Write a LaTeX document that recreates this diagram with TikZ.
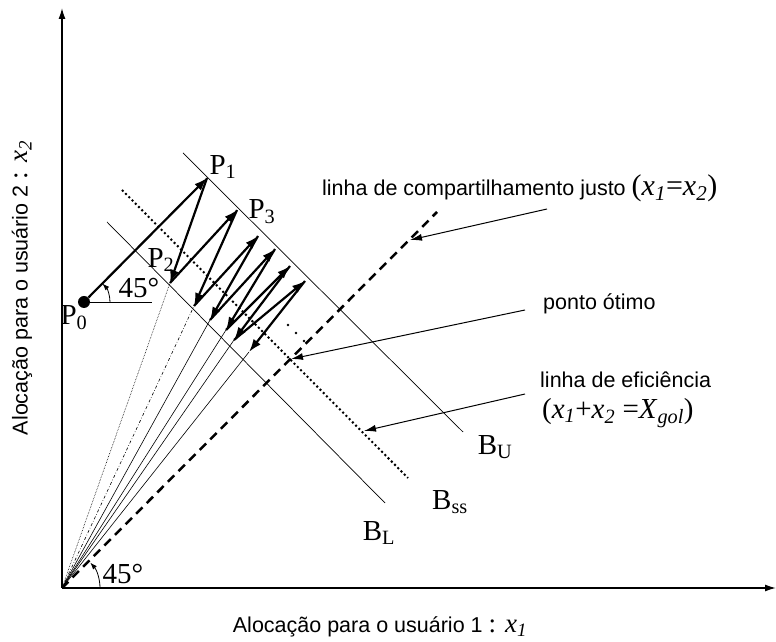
\documentclass[tikz,border=0pt]{standalone}
\usepackage{fontspec}
\setmainfont{Liberation Serif}
\newfontfamily\labelfont{Liberation Sans}
\usetikzlibrary{arrows.meta}

\newcommand{\xs}[1]{\textit{x}\textsubscript{\textit{#1}}}

\tikzset{
  axis/.style={line width=1.4pt, -{Latex[length=11pt,width=7pt]}},
  budget/.style={line width=0.7pt},
  zig/.style={line width=2.2pt, -{Latex[length=13pt,width=9pt]}},
  callout/.style={line width=1pt, -{Latex[length=12pt,width=7pt]}},
  ray/.style={line width=0.6pt},
  txt/.style={font=\labelfont\fontsize{21.5}{24}\selectfont, anchor=west, inner sep=0pt},
  axtxt/.style={font=\labelfont\fontsize{21.5}{24}\selectfont, inner sep=0pt},
  lbl/.style={font=\fontsize{29}{32}\selectfont, inner sep=0pt},
}

\begin{document}
\begin{tikzpicture}[x=1pt,y=1pt]
\useasboundingbox (-62,-54) rectangle (714,588);

% axes
\coordinate (o) at (0,0);
\coordinate (xend) at (714,0);
\coordinate (yend) at (0,580);
\draw[axis] (o) -- (xend);
\draw[axis] (o) -- (yend);
\node[axtxt] (xlab) at (318,-39) {Alocação para o usuário 1 {\rmfamily\fontsize{27}{29}\selectfont: \xs{1}}};
\node[axtxt, rotate=90] (ylab) at (-40,300) {Alocação para o usuário 2 {\rmfamily\fontsize{27}{29}\selectfont: \xs{2}}};

% budget lines
\coordinate (bu1) at (121,435);
\coordinate (bu2) at (401,156);
\coordinate (bs1) at (60,398);
\coordinate (bs2) at (346,110);
\coordinate (bl1) at (45,366);
\coordinate (bl2) at (323,85);
\draw[budget] (bu1) -- (bu2);
\draw[budget] (bl1) -- (bl2);
\draw[line width=2pt, dash pattern=on 2pt off 2.6pt] (bs1) -- (bs2);
\node[lbl] (bU) at (433,141) {B\textsubscript{U}};
\node[lbl] (bSS) at (388,86) {B\textsubscript{ss}};
\node[lbl] (bL) at (317,55) {B\textsubscript{L}};

% fairness line
\coordinate (fe) at (375,376);
\draw[line width=2.5pt, dash pattern=on 9pt off 6pt] (o) -- (fe);

% trajectory points
\node[circle, fill, inner sep=0pt, minimum size=12pt] (p0) at (22,286) {};
\coordinate (t1) at (145,410);
\coordinate (t2) at (175,378);
\coordinate (t3) at (196,352);
\coordinate (t4) at (213,339);
\coordinate (t5) at (228,322);
\coordinate (t6) at (243,307);
\coordinate (b1) at (108,305);
\coordinate (b2) at (132,282);
\coordinate (b3) at (148,268);
\coordinate (b4) at (164,258);
\coordinate (b5) at (172,248);
\coordinate (b6) at (187,236);

% rays to the origin
\draw[ray, densely dotted] (o) -- (b1);
\draw[ray, dash dot] (o) -- (b2);
\draw[ray] (o) -- (b3);
\draw[ray] (o) -- (b4);
\draw[ray] (o) -- (b5);
\draw[ray] (o) -- (b6);

\draw[zig] (p0) -- (t1);
\draw[zig] (t1) -- (b1);
\draw[zig] (b1) -- (t2);
\draw[zig] (t2) -- (b2);
\draw[zig] (b2) -- (t3);
\draw[zig] (t3) -- (b3);
\draw[zig] (b3) -- (t4);
\draw[zig] (t4) -- (b4);
\draw[zig] (b4) -- (t5);
\draw[zig] (t5) -- (b5);
\draw[zig] (b5) -- (t6);
\draw[zig] (t6) -- (b6);

\fill (226,263) circle (1.4);
\fill (234,255) circle (1.4);
\fill (242,247) circle (1.4);

\node[lbl] (p0lbl) at (12,270) {P\textsubscript{0}};
\node[lbl] (p1lbl) at (161,421) {P\textsubscript{1}};
\node[lbl] (p2lbl) at (99,328) {P\textsubscript{2}};
\node[lbl] (p3lbl) at (200,376) {P\textsubscript{3}};

% angles
\coordinate (h0) at (90,286);
\draw[line width=0.5pt] (p0.center) -- (h0);
\draw[line width=0.8pt, -{Latex[length=7pt,width=5pt]}] ([xshift=26pt]p0.center) arc[start angle=0, end angle=45, radius=26];
\node[lbl] (ang1) at (77,300) {45\textdegree};
\draw[line width=0.8pt, -{Latex[length=7pt,width=5pt]}] ([xshift=38pt]o) arc[start angle=0, end angle=42, radius=38];
\node[lbl] (ang2) at (61,14) {45\textdegree};

% annotations
\node[txt] (fair) at (260,400) {linha de compartilhamento justo {\rmfamily\fontsize{30}{32}\selectfont(\xs{1}=\xs{2})}};
\coordinate (fairtip) at (348,348);
\coordinate (fairtail) at (485,379);
\draw[callout] (fairtail) -- (fairtip);

\node[txt] (opt) at (481,284) {ponto ótimo};
\coordinate (opttail) at (463,278);
\coordinate (opttip) at (229,229);
\draw[callout] (opttail) -- (opttip);

\node[txt] (eff) at (478,208) {linha de eficiência};
\node[lbl, anchor=west] (effeq) at (480,175) {(\xs{1}+\xs{2} =\textit{X}\textsubscript{\textit{gol}})};
\coordinate (efftail) at (463,194);
\coordinate (efftip) at (302,157);
\draw[callout] (efftail) -- (efftip);
\end{tikzpicture}
\end{document}
